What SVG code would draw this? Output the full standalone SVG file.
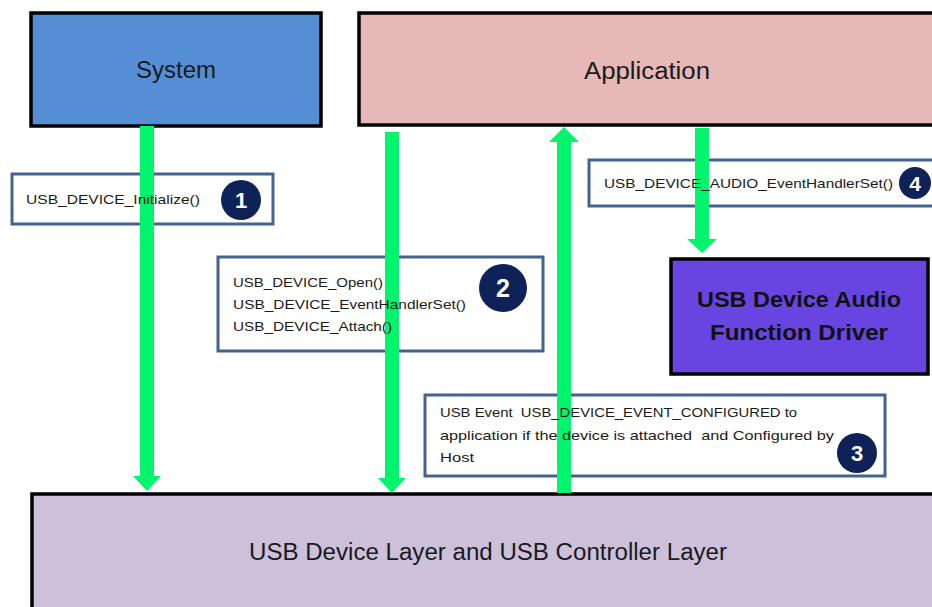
<svg xmlns="http://www.w3.org/2000/svg" width="932" height="607" viewBox="0 0 932 607">
<style>
.blk{stroke:#000;stroke-width:3.5}
.call{fill:#fff;stroke:#43628e;stroke-width:3}
.arr{fill:#00f56c}
.big{font-family:"Liberation Sans",Arial,sans-serif;font-size:23px;fill:#1a1a1a}
.sm{font-family:"Liberation Sans",Arial,sans-serif;font-size:13.5px;fill:#1a1a1a;white-space:pre}
.bold{font-family:"Liberation Sans",Arial,sans-serif;font-size:22px;font-weight:bold;fill:#111}
.num{fill:#0e2258}
.nt{font-family:"Liberation Sans",Arial,sans-serif;font-weight:bold;fill:#fff;text-anchor:middle}
</style>
<rect width="932" height="607" fill="#fff"/>
<g id="system"><rect class="blk" x="31" y="13" width="290" height="113" fill="#558ed5"/><text class="big" x="176" y="78" text-anchor="middle" textLength="80" lengthAdjust="spacingAndGlyphs">System</text></g>
<g id="application"><rect class="blk" x="359" y="13" width="580" height="112" fill="#e6b9b8"/><text class="big" x="647" y="79" text-anchor="middle" textLength="126" lengthAdjust="spacingAndGlyphs">Application</text></g>
<g id="audio-driver"><rect class="blk" x="671" y="259" width="257" height="115" fill="#6845e0"/><text class="bold" x="799" y="307" text-anchor="middle" textLength="204" lengthAdjust="spacingAndGlyphs">USB Device Audio</text><text class="bold" x="799" y="340" text-anchor="middle" textLength="178" lengthAdjust="spacingAndGlyphs">Function Driver</text></g>
<g id="usb-layer"><rect class="blk" x="32" y="494" width="910" height="125" fill="#ccc0da"/><text class="big" x="488" y="560" text-anchor="middle" textLength="478" lengthAdjust="spacingAndGlyphs">USB Device Layer and USB Controller Layer</text></g>
<g id="callout-boxes">
<rect id="box1" class="call" x="12" y="174" width="261" height="50"/>
<rect id="box2" class="call" x="218" y="257" width="325" height="94"/>
<rect id="box3" class="call" x="425" y="395" width="460" height="81"/>
<rect id="box4" class="call" x="589" y="160" width="350" height="46"/>
</g>
<g id="connectors">
<polygon class="arr" points="140,126 154,126 154,476 161,476 147,491 133,476 140,476"/>
<polygon class="arr" points="385,132 399,132 399,478 406,478 392,493 378,478 385,478"/>
<polygon class="arr" points="557,493 571,493 571,142 579,142 564,127 549,142 557,142"/>
<polygon class="arr" points="695,128 709,128 709,239 717,239 702,253 687,239 695,239"/>
</g>
<g id="label1"><text class="sm" x="26" y="204" textLength="174" lengthAdjust="spacingAndGlyphs">USB_DEVICE_Initialize()</text><circle class="num" cx="241" cy="200" r="20"/><text class="nt" x="241" y="208" font-size="22">1</text></g>
<g id="label2"><text class="sm" x="233" y="287" textLength="150" lengthAdjust="spacingAndGlyphs">USB_DEVICE_Open()</text><text class="sm" x="233" y="309" textLength="233" lengthAdjust="spacingAndGlyphs">USB_DEVICE_EventHandlerSet()</text><text class="sm" x="233" y="331" textLength="159" lengthAdjust="spacingAndGlyphs">USB_DEVICE_Attach()</text><circle class="num" cx="503" cy="288" r="24"/><text class="nt" x="503" y="297" font-size="25">2</text></g>
<g id="label3"><text class="sm" x="440" y="417" textLength="357" lengthAdjust="spacingAndGlyphs">USB Event  USB_DEVICE_EVENT_CONFIGURED to</text><text class="sm" x="440" y="440" textLength="394" lengthAdjust="spacingAndGlyphs">application if the device is attached  and Configured by</text><text class="sm" x="440" y="462" textLength="34" lengthAdjust="spacingAndGlyphs">Host</text><circle class="num" cx="857" cy="453" r="20"/><text class="nt" x="857" y="461" font-size="22">3</text></g>
<g id="label4"><text class="sm" x="604" y="188" textLength="289" lengthAdjust="spacingAndGlyphs">USB_DEVICE_AUDIO_EventHandlerSet()</text><circle class="num" cx="915" cy="183" r="16"/><text class="nt" x="915" y="191" font-size="21">4</text></g>
</svg>
